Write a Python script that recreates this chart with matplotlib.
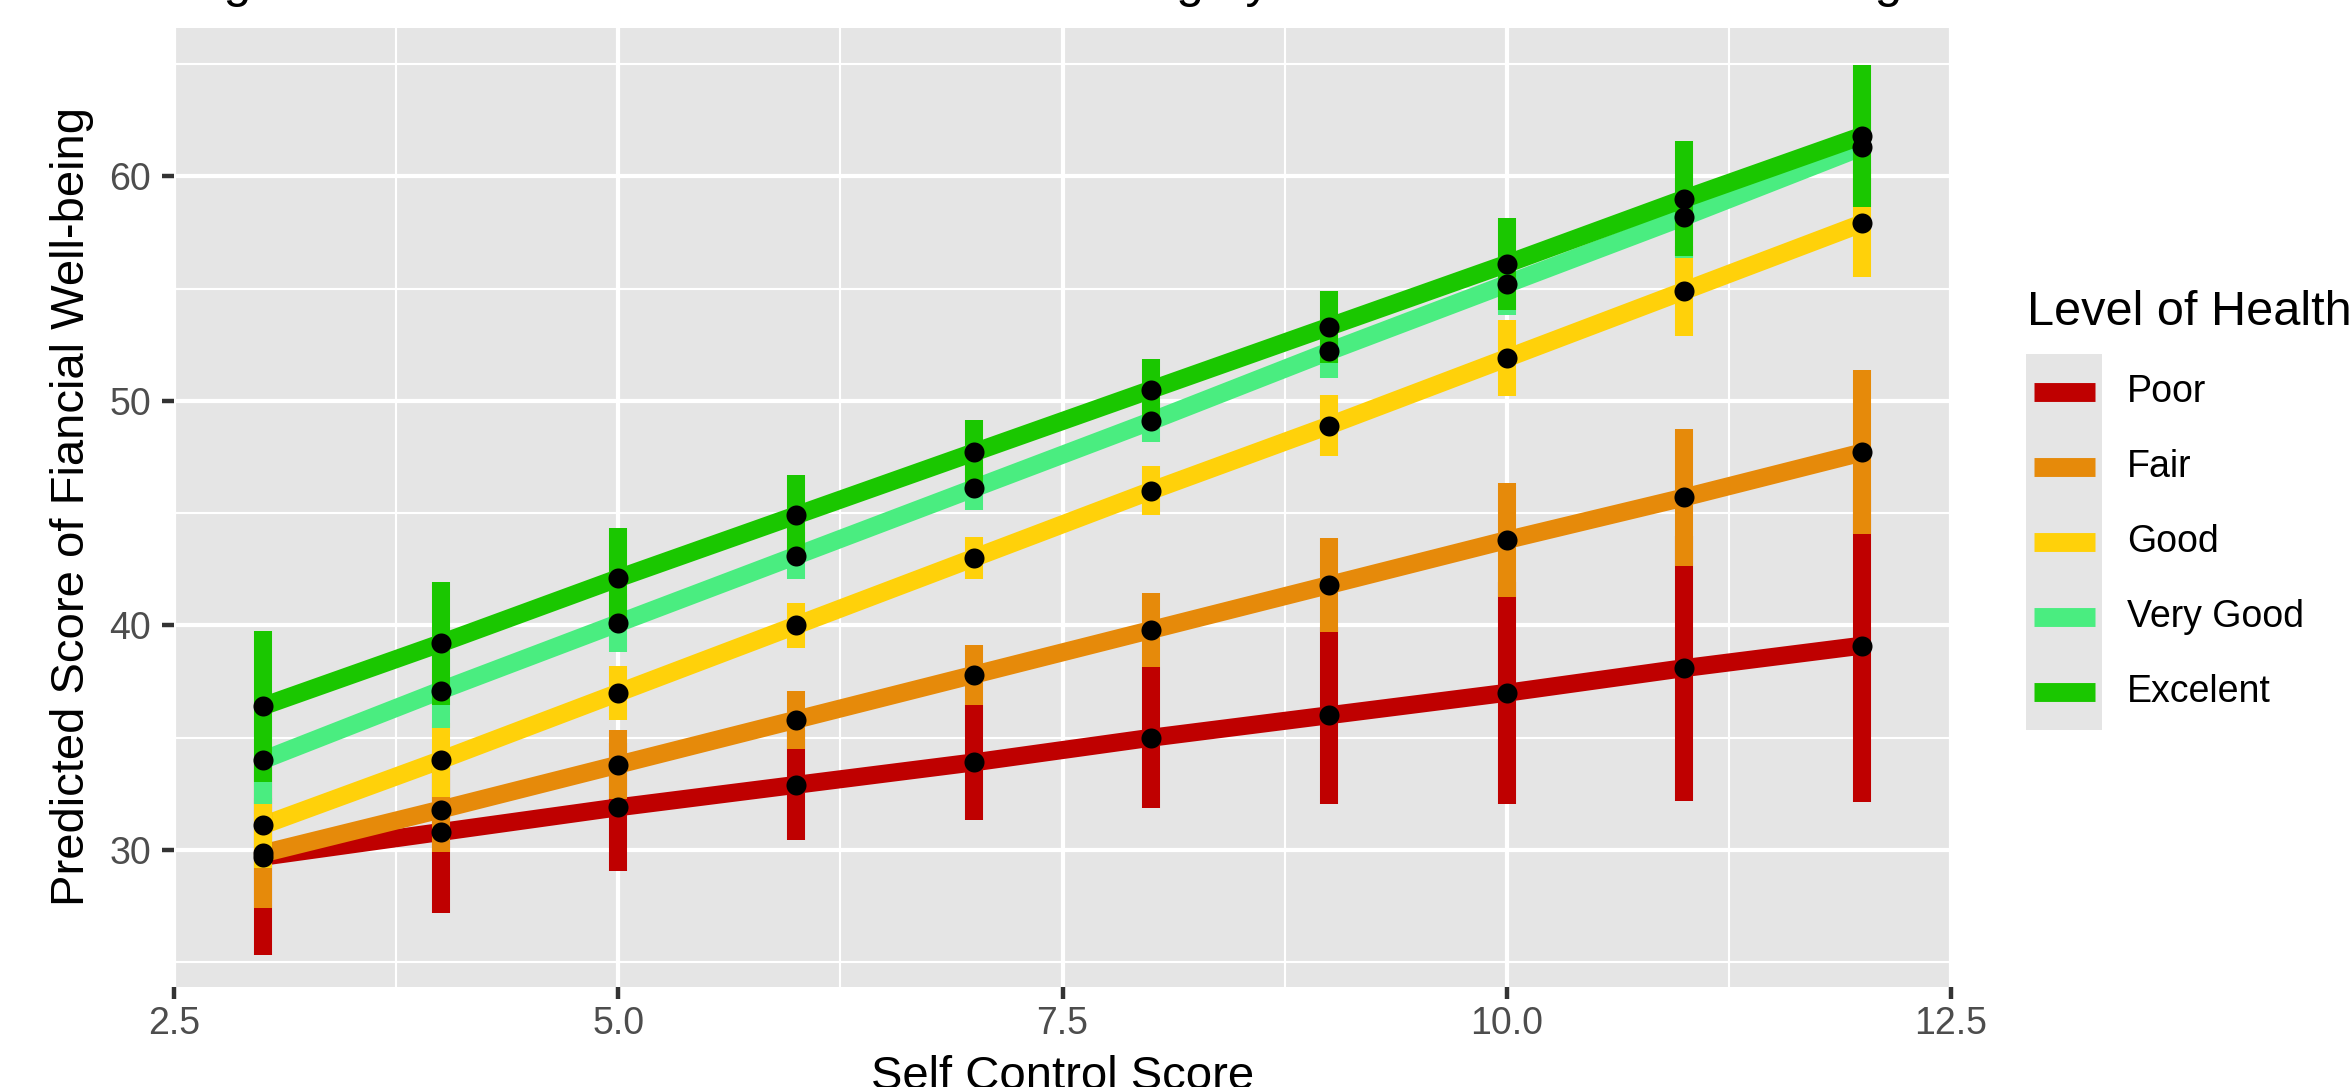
"""
Predicted financial well-being by self control score, split by level of health.
ggplot-style grey panel with thick lines, vertical CI bars and black points.
"""

import matplotlib
matplotlib.use('Agg')

import matplotlib.pyplot as plt
from matplotlib.ticker import FixedLocator

plt.rcParams['font.family'] = ['Liberation Sans', 'DejaVu Sans']

# ------------------------------------------------------------------ #
# Data                                 #
# ------------------------------------------------------------------ #
score = [3, 4, 5, 6, 7, 8, 9, 10, 11, 12]
health_levels = ["Poor", "Fair", "Good", "Very Good", "Excelent"]

pred_poor = [29.7, 30.8, 31.9, 32.9, 33.9, 35.0, 36.0, 37.0, 38.1, 39.1]
pred_fair = [29.85, 31.8, 33.8, 35.8, 37.8, 39.8, 41.8, 43.8, 45.7, 47.7]
pred_good = [31.1, 34.0, 37.0, 40.0, 43.0, 46.0, 48.9, 51.9, 54.9, 57.9]
pred_very_good = [34.0, 37.1, 40.1, 43.1, 46.1, 49.1, 52.2, 55.2, 58.2, 61.3]
pred_excelent = [36.4, 39.2, 42.1, 44.9, 47.7, 50.5, 53.3, 56.1, 59.0, 61.8]

# half-width of the confidence band at each score
ci_poor = [4.37, 3.6, 2.85, 2.45, 2.55, 3.15, 3.95, 4.95, 5.9, 6.95]
ci_fair = [2.45, 1.9, 1.55, 1.3, 1.35, 1.65, 2.1, 2.55, 3.05, 3.65]
ci_good = [1.9, 1.65, 1.2, 1.0, 0.95, 1.1, 1.35, 1.7, 2.0, 2.4]
ci_very_good = [1.95, 1.65, 1.3, 1.05, 0.95, 0.95, 1.2, 1.4, 1.85, 2.3]
ci_excelent = [3.35, 2.75, 2.25, 1.8, 1.45, 1.35, 1.6, 2.05, 2.55, 3.15]

x_ticks = [2.5, 5.0, 7.5, 10.0, 12.5]
y_ticks = [30, 40, 50, 60]

TITLE = "Regression of Self Control Score on Well-being by Each Level of Health Rating"

HEALTH_COLORS = {
    "Poor": "#BF0000",
    "Fair": "#E68A0A",
    "Good": "#FFD10A",
    "Very Good": "#4AED80",
    "Excelent": "#1AC700",
}

predictions = [pred_poor, pred_fair, pred_good, pred_very_good, pred_excelent]
intervals = [ci_poor, ci_fair, ci_good, ci_very_good, ci_excelent]

PANEL_BG = "#E5E5E5"
LW = 6.5  # line / bar width in points

# ------------------------------------------------------------------ #
# Figure                                                              #
# ------------------------------------------------------------------ #
W, H = 2351, 1087
DPI = 200
fig = plt.figure(figsize=(W / DPI, H / DPI), dpi=DPI)

ax = fig.add_axes([174 / W, 1 - 987 / H, (1951 - 174) / W, (987 - 28) / H])
ax.set_facecolor(PANEL_BG)
for s in ax.spines.values():
    s.set_visible(False)

# regression lines first
for level, pred in zip(health_levels, predictions):
    ax.plot(score, pred, color=HEALTH_COLORS[level], linewidth=LW,
            solid_capstyle="butt", zorder=2)

# vertical CI bars drawn over lines, later groups on top
for i, (level, pred, ci) in enumerate(zip(health_levels, predictions, intervals)):
    lo = [p - c for p, c in zip(pred, ci)]
    hi = [p + c for p, c in zip(pred, ci)]
    ax.vlines(score, lo, hi, color=HEALTH_COLORS[level], linewidth=LW,
              capstyle="butt", zorder=3 + i * 0.1)

# black points on top
for pred in predictions:
    ax.scatter(score, pred, s=52, color="black", linewidths=0, zorder=5)

ax.set_xlim(2.5, 12.5)
ax.set_ylim(23.9, 66.6)

ax.xaxis.set_major_locator(FixedLocator(x_ticks))
ax.xaxis.set_minor_locator(FixedLocator([3.75, 6.25, 8.75, 11.25]))
ax.yaxis.set_major_locator(FixedLocator(y_ticks))
ax.yaxis.set_minor_locator(FixedLocator([25, 35, 45, 55, 65]))
ax.set_xticklabels([f"{t:.1f}" for t in x_ticks])
ax.set_yticklabels([str(t) for t in y_ticks])

ax.grid(True, which="major", color="white", linewidth=1.5, zorder=0)
ax.grid(True, which="minor", color="white", linewidth=0.75, zorder=0)
ax.set_axisbelow(True)

ax.tick_params(axis="both", which="major", length=4.3, width=1.6,
               color="#333333", labelcolor="#4D4D4D", labelsize=13.5)
ax.tick_params(axis="x", which="major", pad=2.5)
ax.tick_params(axis="y", which="major", pad=4)
ax.tick_params(axis="both", which="minor", length=0)

# axis titles (partly cut by the canvas edge, as in the original)
fig.text((174 + 1951) / 2 / W, -2 / H, "Self Control Score",
         fontsize=17, ha="center", va="baseline")
fig.text(94 / W, 1 - 507 / H, "Predicted Score of Fiancial Well-being",
         fontsize=17, rotation=90, ha="right", va="center")

# title sits above the top edge, only descenders remain visible
fig.text(160 / W, 1 + 3.4 / H, TITLE, fontsize=17.9, ha="left", va="baseline")

# ------------------------------------------------------------------ #
# Legend (built by hand to mimic ggplot key boxes)                    #
# ------------------------------------------------------------------ #
leg_ax = fig.add_axes([2026 / W, 1 - 730 / H, 76 / W, 376 / H])
leg_ax.set_facecolor(PANEL_BG)
leg_ax.set_xlim(0, 1)
leg_ax.set_ylim(0, 1)
leg_ax.set_xticks([])
leg_ax.set_yticks([])
for s in leg_ax.spines.values():
    s.set_visible(False)

row_y = [0.9, 0.7, 0.5, 0.3, 0.1]
for level, ry in zip(health_levels, row_y):
    leg_ax.plot([0.105, 0.908], [ry, ry], color=HEALTH_COLORS[level],
                linewidth=6.8, solid_capstyle="butt")
    fig_y = (1 - 730 / H) + ry * 376 / H
    fig.text(2127 / W, fig_y, level, fontsize=13.5, ha="left", va="center")

fig.text(2027 / W, 1 - 325 / H, "Level of Health", fontsize=17.5,
         ha="left", va="baseline")

plt.savefig("out.png", dpi=DPI)
plt.close(fig)
